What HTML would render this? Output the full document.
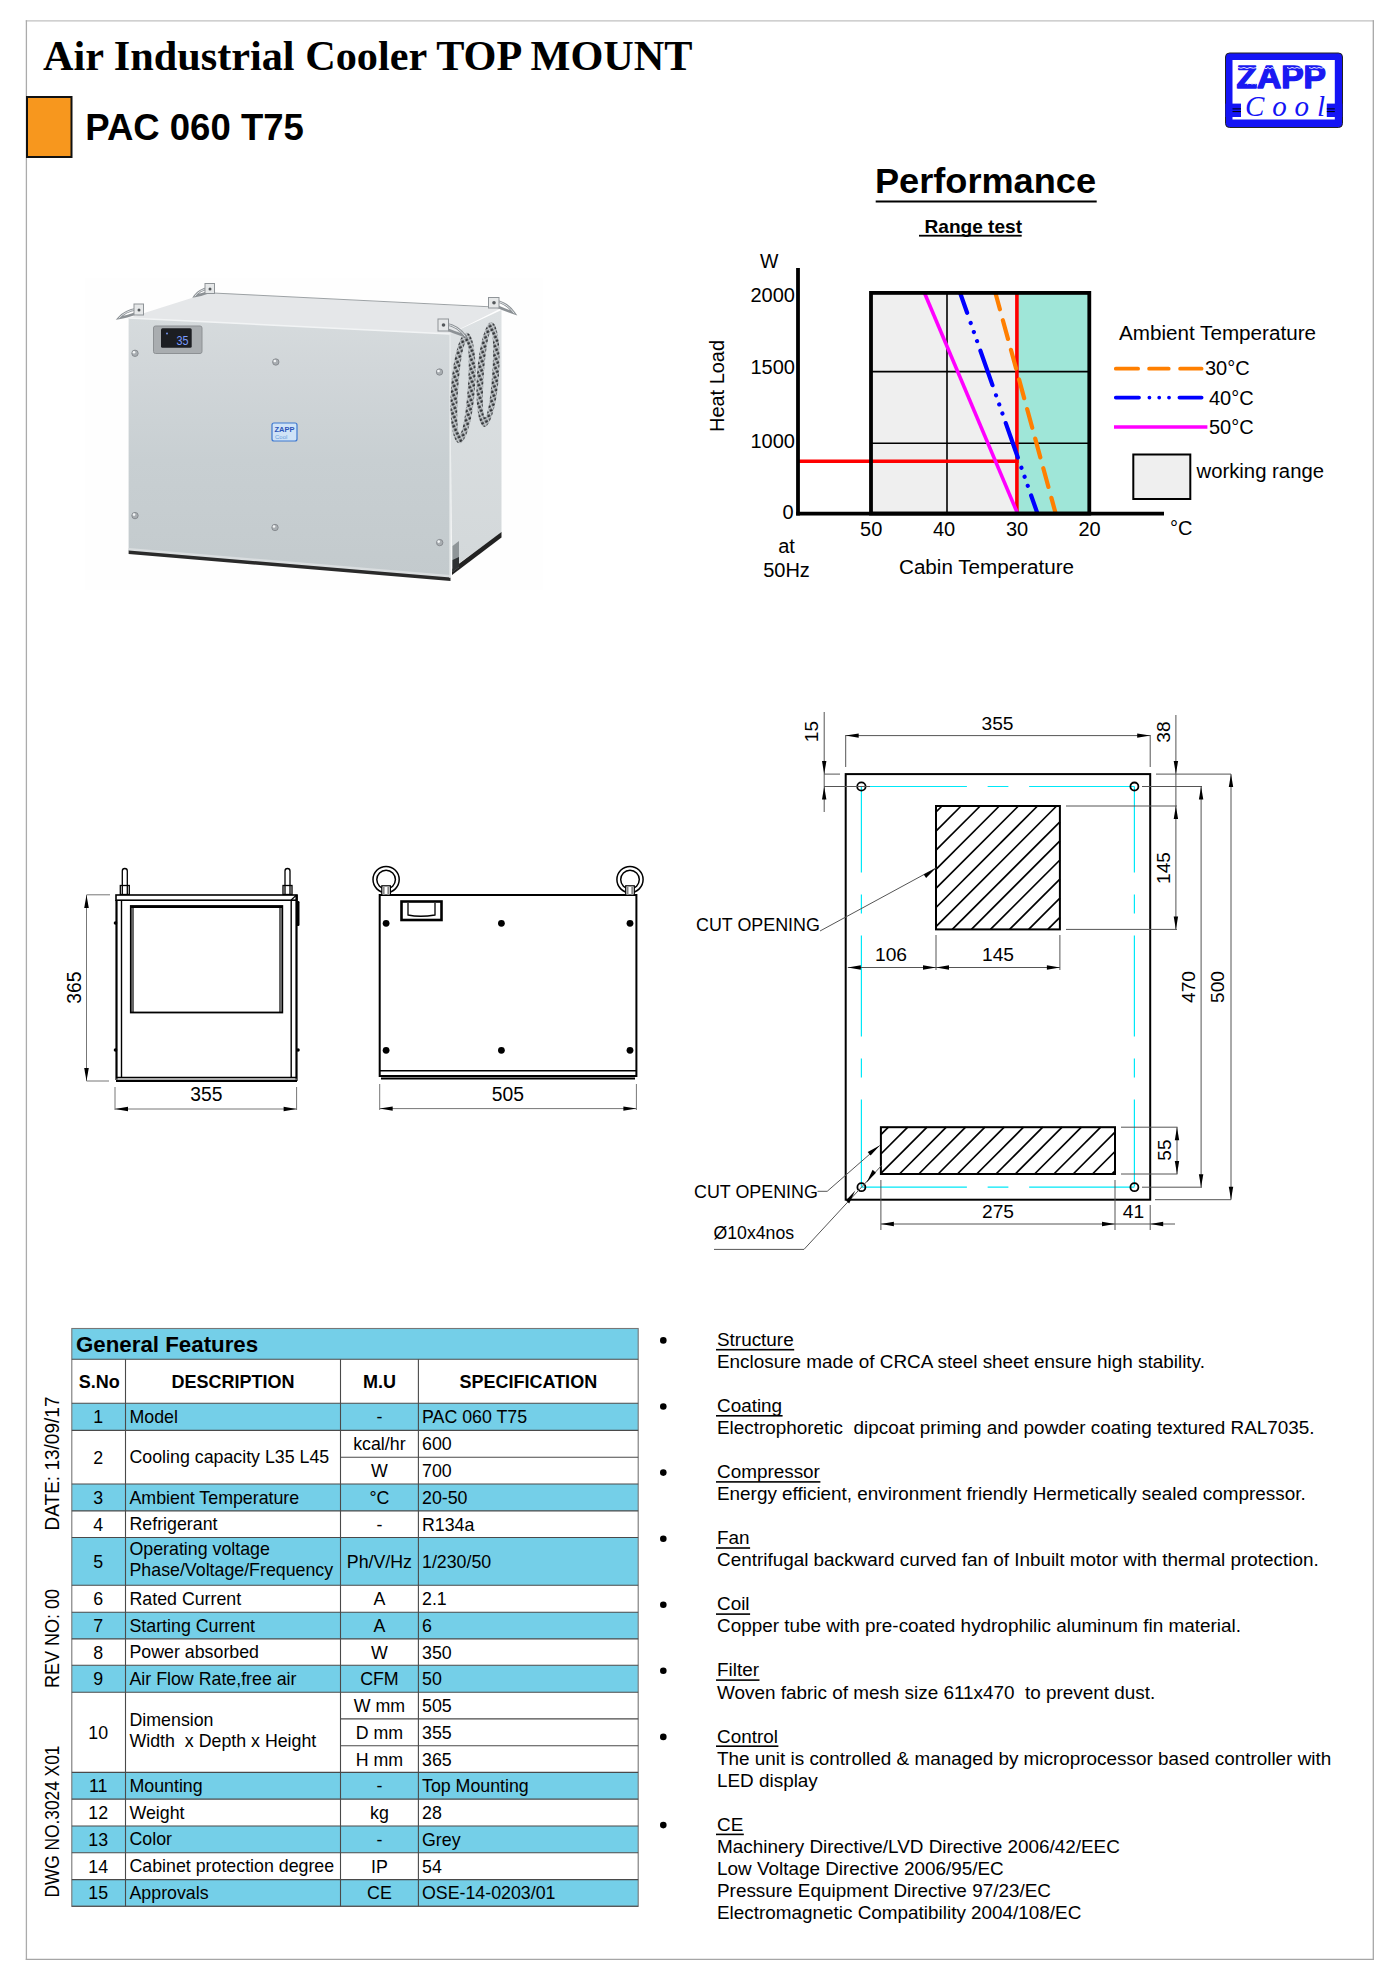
<!DOCTYPE html>
<html><head><meta charset="utf-8">
<style>
html,body{margin:0;padding:0;background:#fff;}
body{width:1400px;height:1981px;overflow:hidden;position:relative;}
svg{position:absolute;left:0;top:0;}
text{font-family:"Liberation Sans",sans-serif;fill:#000;}
.serif{font-family:"Liberation Serif",serif;}
</style></head><body>
<svg width="1400" height="1981" viewBox="0 0 1400 1981">

<line x1="25.8" y1="20.9" x2="1374" y2="20.9" stroke="#c0c0c0" stroke-width="1.3"/>
<line x1="26.4" y1="20.3" x2="26.4" y2="1960" stroke="#ababab" stroke-width="1.3"/>
<line x1="1373.3" y1="20.3" x2="1373.3" y2="1960" stroke="#a6a6a6" stroke-width="1.3"/>
<line x1="25.8" y1="1959.4" x2="1374" y2="1959.4" stroke="#a6a6a6" stroke-width="1.3"/>
<text x="43" y="70" class="serif" font-weight="bold" font-size="42.25">Air Industrial Cooler TOP MOUNT</text>
<rect x="27" y="97" width="44.5" height="60" fill="#F7971E" stroke="#111" stroke-width="2"/>
<text x="85.3" y="139.9" font-weight="bold" font-size="37.5" textLength="218.5" lengthAdjust="spacingAndGlyphs">PAC 060 T75</text>
<g id="logo">
<rect x="1225.5" y="53" width="117" height="74.5" rx="4" fill="#1414f5" stroke="#222" stroke-width="1"/>
<rect x="1232.5" y="60" width="102.3" height="59.5" fill="#fff"/>
<rect x="1225.5" y="103.6" width="15.5" height="13.4" fill="#1414f5"/>
<rect x="1326.8" y="103.6" width="15.5" height="13.4" fill="#1414f5"/>
<line x1="1232.5" y1="108.9" x2="1241" y2="108.9" stroke="#000" stroke-width="1"/>
<line x1="1232.5" y1="111.6" x2="1241" y2="111.6" stroke="#000" stroke-width="1"/>
<line x1="1326.8" y1="108.9" x2="1334.8" y2="108.9" stroke="#000" stroke-width="1"/>
<line x1="1326.8" y1="111.6" x2="1334.8" y2="111.6" stroke="#000" stroke-width="1"/>
<text x="1236.5" y="88.2" font-weight="bold" font-size="31.5" style="fill:#1a1af2;stroke:#1a1af2;stroke-width:1.4;stroke-linejoin:round" textLength="89.5" lengthAdjust="spacingAndGlyphs">ZAPP</text>
<g fill="none" stroke="#fff" stroke-width="1" opacity="0.9">
<path d="M1238,67.5 q3,1.5 6,0 q3,2 6,0 q3,1.5 7,0"/>
<path d="M1247,84 q3,-1.5 5,0 q2,-1 4,0"/>
<path d="M1264,67.5 q2,2.5 4,0 q2,3 4,0 q2,2 5,0"/>
<path d="M1287,67.5 q3,2 5,0 q3,1.5 5,0 q2,1.5 5,0"/>
<path d="M1309,67.5 q3,2 5,0 q3,1.5 5,0 q2,1.5 5,0"/>
</g>
<text x="1245" y="116" class="serif" font-style="italic" font-size="29" style="fill:#1414f5" textLength="80" lengthAdjust="spacing">Cool</text>
</g>
<g id="chart">
<text x="875" y="193.4" font-weight="bold" font-size="35.5" textLength="221" lengthAdjust="spacingAndGlyphs">Performance</text>
<rect x="875.7" y="200.5" width="221" height="2" fill="#000"/>
<text x="924.5" y="232.9" font-weight="bold" font-size="18.5" textLength="97.5" lengthAdjust="spacingAndGlyphs">Range test</text>
<rect x="919" y="234.8" width="102.7" height="1.8" fill="#000"/>
<rect x="871" y="292.5" width="146" height="221" fill="#efefef"/>
<rect x="1017" y="292.5" width="72.3" height="221" fill="#9fe6d8"/>
<line x1="871" y1="371.6" x2="1089.3" y2="371.6" stroke="#000" stroke-width="1.6"/>
<line x1="871" y1="443.2" x2="1089.3" y2="443.2" stroke="#000" stroke-width="1.6"/>
<line x1="947" y1="292.5" x2="947" y2="513.6" stroke="#000" stroke-width="1.6"/>
<line x1="1016.9" y1="292.5" x2="1016.9" y2="513.6" stroke="#ff0000" stroke-width="3.6"/>
<line x1="798" y1="461.3" x2="1018.7" y2="461.3" stroke="#ff0000" stroke-width="3.6"/>
<line x1="924.3" y1="292.5" x2="1017.6" y2="513.6" stroke="#ff00ff" stroke-width="3.6"/>
<clipPath id="boxclip"><rect x="871" y="293" width="218.3" height="220.6"/></clipPath>
<line clip-path="url(#boxclip)" x1="960" y1="292.5" x2="1037.5" y2="513.6" stroke="#0000ff" stroke-width="4.2" stroke-linecap="round" stroke-dasharray="36.5 10.8 0.01 9.6 0.01 9.6 0.01 10.15" stroke-dashoffset="15"/>
<line clip-path="url(#boxclip)" x1="995.3" y1="292.5" x2="1055.7" y2="513.6" stroke="#ff7f00" stroke-width="4.2" stroke-linecap="round" stroke-dasharray="19.4 11.3" stroke-dashoffset="2"/>
<rect x="871" y="292.9" width="218.3" height="220.7" fill="none" stroke="#000" stroke-width="3.8"/>
<line x1="798" y1="268" x2="798" y2="515.5" stroke="#000" stroke-width="3.8"/>
<line x1="796.2" y1="513.6" x2="1164" y2="513.6" stroke="#000" stroke-width="3.8"/>
<text x="760" y="268.3" font-size="19.5">W</text>
<text x="795" y="301.5" font-size="20" text-anchor="end">2000</text>
<text x="795" y="374.4" font-size="20" text-anchor="end">1500</text>
<text x="795" y="447.6" font-size="20" text-anchor="end">1000</text>
<text x="793.5" y="519.3" font-size="20" text-anchor="end">0</text>
<text x="871.2" y="535.5" font-size="20" text-anchor="middle">50</text>
<text x="944" y="535.5" font-size="20" text-anchor="middle">40</text>
<text x="1017" y="535.5" font-size="20" text-anchor="middle">30</text>
<text x="1089.5" y="535.5" font-size="20" text-anchor="middle">20</text>
<text x="1170" y="534.7" font-size="20">°C</text>
<text x="786.5" y="552.9" font-size="20" text-anchor="middle">at</text>
<text x="786.5" y="576.6" font-size="20" text-anchor="middle">50Hz</text>
<text x="899" y="573.9" font-size="19.5" textLength="175" lengthAdjust="spacingAndGlyphs">Cabin Temperature</text>
<text transform="translate(724,432) rotate(-90)" font-size="19.5" textLength="92" lengthAdjust="spacingAndGlyphs">Heat Load</text>
<text x="1119" y="339.7" font-size="19.5" textLength="197" lengthAdjust="spacingAndGlyphs">Ambient Temperature</text>
<line x1="1115.8" y1="368.7" x2="1201.6" y2="368.7" stroke="#ff7f00" stroke-width="3.8" stroke-linecap="round" stroke-dasharray="22.3 11 19.6 11.4"/>
<text x="1205" y="375.4" font-size="20">30°C</text>
<line x1="1115.8" y1="397.6" x2="1201.6" y2="397.6" stroke="#0000ff" stroke-width="3.8" stroke-linecap="round" stroke-dasharray="23.2 10.4 0.01 9.8 0.01 9.8 0.01 10.4 23.5"/>
<text x="1209" y="404.7" font-size="20">40°C</text>
<line x1="1114" y1="427" x2="1207.4" y2="427" stroke="#ff00ff" stroke-width="3.6"/>
<text x="1209" y="433.5" font-size="20">50°C</text>
<rect x="1133.3" y="454.5" width="57" height="44.5" fill="#efefef" stroke="#000" stroke-width="2"/>
<text x="1196.5" y="478" font-size="20" textLength="127.5" lengthAdjust="spacingAndGlyphs">working range</text>
</g>
<g id="photo">
<defs>
<linearGradient id="gfront" x1="0" y1="0" x2="0" y2="1">
<stop offset="0" stop-color="#d6dbdd"/><stop offset="0.2" stop-color="#d1d6d9"/><stop offset="0.55" stop-color="#c8cfd2"/><stop offset="1" stop-color="#c3cacd"/>
</linearGradient>
<linearGradient id="gside" x1="0" y1="0" x2="0" y2="1">
<stop offset="0" stop-color="#dde1e3"/><stop offset="1" stop-color="#d3d8da"/>
</linearGradient>
<pattern id="vent" width="4.5" height="4" patternUnits="userSpaceOnUse" patternTransform="rotate(-30)">
<rect width="4.5" height="4" fill="#c9ced1"/><rect x="0.4" y="0.5" width="3.0" height="2.6" fill="#34373a"/>
</pattern>
</defs>
<rect x="85" y="278" width="458" height="312" fill="#fefefe"/>
<polygon points="128.6,318 209,292.5 501.5,308 450,334" fill="#e5e7e9"/>
<line x1="209" y1="292.8" x2="494" y2="307" stroke="#9da2a5" stroke-width="1"/>
<polygon points="450,334 501.5,310 501.5,533 452,568" fill="url(#gside)"/>
<polygon points="452,569 501.5,532 501.5,537.5 452,575" fill="#222"/>
<polygon points="128.6,318 450,334 450.5,578 128.6,551" fill="url(#gfront)"/>
<polygon points="128.6,548 450.5,575 450.5,578 128.6,551" fill="#d9dddf"/>
<polygon points="128.6,550.5 450.5,577.5 450.5,581 128.6,554" fill="#2a2a2a"/>
<line x1="128.6" y1="318" x2="450" y2="334" stroke="#f2f4f5" stroke-width="1.5"/>
<line x1="450" y1="334" x2="450" y2="578" stroke="#e8ebec" stroke-width="1.2"/>
<g transform="rotate(4 463 388)"><ellipse cx="463" cy="388" rx="12" ry="55.5" fill="url(#vent)"/><ellipse cx="463" cy="388" rx="4.8" ry="46" fill="#d9dee0"/></g>
<g transform="rotate(4 488 374.5)"><ellipse cx="488" cy="374.5" rx="11" ry="52.5" fill="url(#vent)"/><ellipse cx="488" cy="374.5" rx="4.2" ry="43" fill="#d9dee0"/></g>
<rect x="153.5" y="326" width="48.5" height="27.5" rx="2" fill="#a9adb0" stroke="#8d9194" stroke-width="1"/>
<rect x="161" y="328.3" width="30.7" height="19.5" rx="1.5" fill="#1c1e22"/>
<text x="176.5" y="344.6" font-size="13" style="fill:#7a9cff" textLength="12" lengthAdjust="spacingAndGlyphs">35</text><circle cx="167" cy="333.5" r="0.9" fill="#7a9cff"/>
<g fill="#a9aeb2" stroke="#7d8286" stroke-width="0.8">
<circle cx="135" cy="353.3" r="3.2"/><circle cx="275.8" cy="362" r="3.2"/><circle cx="439.5" cy="372" r="3.2"/>
<circle cx="135" cy="515.6" r="3.2"/><circle cx="275" cy="527.5" r="3.2"/><circle cx="439.7" cy="542.6" r="3.2"/>
</g>
<rect x="272" y="423" width="25" height="18" rx="2" fill="#cfe3f7" stroke="#3d78d0" stroke-width="1.2"/>
<text x="274.5" y="432" font-size="7.5" font-weight="bold" style="fill:#2c55b8">ZAPP</text>
<text x="275" y="439" font-size="6" style="fill:#6aa0dd">Cool</text>
<g fill="none" stroke="#8c9195" stroke-width="2.6" stroke-linecap="round">
<path d="M137,309 Q125,311 119,318 Q126,317 137,313"/>
<path d="M209,288 Q199,290 195,296 Q201,295 209,292"/>
<path d="M446,324 Q458,326 465,336 Q456,333 446,329"/>
<path d="M496,301 Q507,303 514,313 Q505,310 496,306"/>
</g>
<g fill="none" stroke="#e9ecee" stroke-width="0.9" stroke-linecap="round">
<path d="M137,309 Q125,311 119,318"/>
<path d="M209,288 Q199,290 195,296"/>
<path d="M446,324 Q458,326 465,336"/>
<path d="M496,301 Q507,303 514,313"/>
</g>
<g fill="#e6e8e9" stroke="#8f9498" stroke-width="1">
<rect x="134" y="304" width="9.5" height="11"/>
<rect x="205" y="283.5" width="9.5" height="10"/>
<rect x="438" y="319" width="10.5" height="12"/>
<rect x="488.5" y="297.5" width="10.5" height="10.5"/>
</g>
<g fill="#55595c"><circle cx="139" cy="310" r="1.5"/><circle cx="210" cy="289" r="1.5"/><circle cx="443.5" cy="325" r="1.8"/><circle cx="494" cy="302.8" r="1.8"/></g>
<polygon points="452.5,546 459,541 459,567 452.5,572" fill="#8f9598"/><polygon points="452.5,560 459,557 459,567 452.5,572" fill="#2e3133"/>
<g fill="#f4f6f7"><circle cx="134" cy="352.3" r="1.3"/><circle cx="274.8" cy="361" r="1.3"/><circle cx="438.5" cy="371" r="1.3"/><circle cx="134" cy="514.6" r="1.3"/><circle cx="274" cy="526.5" r="1.3"/><circle cx="438.7" cy="541.6" r="1.3"/></g>
</g>
<g id="front" fill="none" stroke="#000">
<rect x="116" y="895" width="181" height="5.2" stroke-width="1.6"/>
<line x1="116.5" y1="900" x2="116.5" y2="1080" stroke-width="2.2"/>
<line x1="121.5" y1="900" x2="121.5" y2="1077" stroke-width="1.4"/>
<line x1="296.5" y1="895" x2="296.5" y2="1081" stroke-width="2.2"/>
<line x1="291.2" y1="900" x2="291.2" y2="1077" stroke-width="1.4"/>
<rect x="130.8" y="906" width="151.5" height="106.5" stroke-width="1.8"/>
<line x1="133" y1="908" x2="133" y2="1012" stroke-width="1.2"/>
<line x1="280" y1="908" x2="280" y2="1012" stroke-width="1.2"/>
<line x1="131" y1="907" x2="282" y2="907" stroke-width="2"/>
<line x1="116" y1="1077.5" x2="297" y2="1077.5" stroke-width="1.6"/>
<line x1="116" y1="1081" x2="297" y2="1081" stroke-width="2"/>
<line x1="116" y1="1079.2" x2="297" y2="1079.2" stroke="#888" stroke-width="1"/>
<path d="M122.3,894 L122.3,871 A2.5,2.5 0 0 1 127.3,871 L127.3,894" stroke-width="1.3"/>
<rect x="120.3" y="885.5" width="9" height="9" stroke-width="1.3"/>
<path d="M285,894 L285,871 A2.5,2.5 0 0 1 290,871 L290,894" stroke-width="1.3"/>
<rect x="283" y="885.5" width="9" height="9" stroke-width="1.3"/>
<line x1="291.2" y1="900" x2="296.5" y2="895" stroke-width="1.2"/>
<rect x="296.5" y="901" width="3" height="25" rx="1.2" fill="#000" stroke="none"/>
<circle cx="115.5" cy="923" r="1.8" fill="#000" stroke="none"/>
<circle cx="115.5" cy="1050" r="1.8" fill="#000" stroke="none"/>
<circle cx="298" cy="1050" r="1.8" fill="#000" stroke="none"/>
</g>
<g id="frontdim" stroke="#777" fill="none" stroke-width="1">
<line x1="86.5" y1="894.8" x2="110" y2="894.8"/>
<line x1="86.5" y1="1081" x2="109" y2="1081"/>
<line x1="86.5" y1="895" x2="86.5" y2="1081"/>
<line x1="115" y1="1087" x2="115" y2="1110"/>
<line x1="296.6" y1="1087" x2="296.6" y2="1110"/>
<line x1="115" y1="1109" x2="296.6" y2="1109"/>
</g>
<g fill="#000">
<polygon points="86.5,895 84.2,908 88.8,908"/>
<polygon points="86.5,1081 84.2,1068 88.8,1068"/>
<polygon points="115,1109 128,1106.8 128,1111.2"/>
<polygon points="296.6,1109 283.6,1106.8 283.6,1111.2"/>
</g>
<text x="206.3" y="1101.4" font-size="19.3" text-anchor="middle">355</text>
<text transform="translate(80.7,987.6) rotate(-90)" font-size="19.3" text-anchor="middle">365</text>

<g id="side" fill="none" stroke="#000">
<rect x="379.7" y="895" width="256.7" height="181" stroke-width="2"/>
<line x1="379.7" y1="1070.7" x2="636.4" y2="1070.7" stroke-width="1.6"/>
<line x1="381" y1="1078.5" x2="635" y2="1078.5" stroke-width="2"/>
<rect x="401.5" y="901.5" width="40" height="18.5" stroke-width="2.6"/>
<path d="M408,903 L408,915 Q420,917.5 435,915 L435,903" stroke-width="1.3"/>
<circle cx="386.1" cy="879.6" r="13.1" stroke-width="1.5"/>
<circle cx="386.1" cy="879.6" r="9.3" stroke-width="1.5"/>
<circle cx="630" cy="879.6" r="13.1" stroke-width="1.5"/>
<circle cx="630" cy="879.6" r="9.3" stroke-width="1.5"/>
<rect x="381.8" y="885.8" width="8.6" height="9.2" fill="#fff" stroke-width="1.2"/>
<rect x="382.8" y="887" width="1.8" height="8" fill="#888" stroke="none"/><rect x="387.4" y="887" width="1.8" height="8" fill="#888" stroke="none"/>
<rect x="625.7" y="885.8" width="8.6" height="9.2" fill="#fff" stroke-width="1.2"/>
<rect x="626.7" y="887" width="1.8" height="8" fill="#888" stroke="none"/><rect x="631.3" y="887" width="1.8" height="8" fill="#888" stroke="none"/>
</g>
<g fill="#000">
<circle cx="386.1" cy="923.3" r="3.4"/><circle cx="501.4" cy="923.3" r="3.4"/><circle cx="630" cy="923.3" r="3.4"/>
<circle cx="386.1" cy="1050.3" r="3.4"/><circle cx="501.4" cy="1050.3" r="3.4"/><circle cx="630" cy="1050.3" r="3.4"/>
</g>
<g stroke="#777" fill="none" stroke-width="1">
<line x1="379.7" y1="1084" x2="379.7" y2="1110"/>
<line x1="636.4" y1="1084" x2="636.4" y2="1110"/>
<line x1="379.7" y1="1108.6" x2="636.4" y2="1108.6"/>
</g>
<g fill="#000">
<polygon points="379.7,1108.6 392.7,1106.4 392.7,1110.8"/>
<polygon points="636.4,1108.6 623.4,1106.4 623.4,1110.8"/>
</g>
<text x="507.8" y="1101" font-size="19.3" text-anchor="middle">505</text>

<g id="cut" fill="none" stroke="#000">
<rect x="845.7" y="774.1" width="304.5" height="125.6" stroke-width="2" style="display:none"/>
<rect x="845.7" y="774.1" width="304.5" height="425.6" stroke-width="2"/>
<g stroke="#00e8f8" stroke-width="1.2">
<line x1="861.4" y1="786.5" x2="1134.4" y2="786.5" stroke-dasharray="105.5 20.75 20.75 20.75 105.5"/>
<line x1="861.4" y1="1187.2" x2="1134.4" y2="1187.2" stroke-dasharray="105.5 20.75 20.75 20.75 105.5"/>
<line x1="861.4" y1="786.5" x2="861.4" y2="1187.2" stroke-dasharray="86 22 19 22 101 22 19 22 87"/>
<line x1="1134.4" y1="786.5" x2="1134.4" y2="1187.2" stroke-dasharray="86 22 19 22 101 22 19 22 87"/>
</g>
<g stroke-width="1.8"><circle cx="861.4" cy="786.5" r="4.2"/><circle cx="1134.4" cy="786.5" r="4"/><circle cx="861.4" cy="1187.2" r="4"/><circle cx="1134.4" cy="1187.2" r="4"/></g>
<rect x="936" y="806" width="123.9" height="123.4" stroke-width="2"/>
<rect x="880.9" y="1127.2" width="234.1" height="46.8" stroke-width="2"/>
<g stroke-width="1.7"><line x1="936.00" y1="812.00" x2="942.00" y2="806.00"/><line x1="936.00" y1="831.10" x2="961.10" y2="806.00"/><line x1="936.00" y1="850.20" x2="980.20" y2="806.00"/><line x1="936.00" y1="869.30" x2="999.30" y2="806.00"/><line x1="936.00" y1="888.40" x2="1018.40" y2="806.00"/><line x1="936.00" y1="907.50" x2="1037.50" y2="806.00"/><line x1="936.00" y1="926.60" x2="1056.60" y2="806.00"/><line x1="952.30" y1="929.40" x2="1059.90" y2="821.80"/><line x1="971.40" y1="929.40" x2="1059.90" y2="840.90"/><line x1="990.50" y1="929.40" x2="1059.90" y2="860.00"/><line x1="1009.60" y1="929.40" x2="1059.90" y2="879.10"/><line x1="1028.70" y1="929.40" x2="1059.90" y2="898.20"/><line x1="1047.80" y1="929.40" x2="1059.90" y2="917.30"/></g>
<g stroke-width="1.7"><line x1="880.90" y1="1134.70" x2="888.40" y2="1127.20"/><line x1="880.90" y1="1154.00" x2="907.70" y2="1127.20"/><line x1="880.90" y1="1173.30" x2="927.00" y2="1127.20"/><line x1="899.50" y1="1174.00" x2="946.30" y2="1127.20"/><line x1="918.80" y1="1174.00" x2="965.60" y2="1127.20"/><line x1="938.10" y1="1174.00" x2="984.90" y2="1127.20"/><line x1="957.40" y1="1174.00" x2="1004.20" y2="1127.20"/><line x1="976.70" y1="1174.00" x2="1023.50" y2="1127.20"/><line x1="996.00" y1="1174.00" x2="1042.80" y2="1127.20"/><line x1="1015.30" y1="1174.00" x2="1062.10" y2="1127.20"/><line x1="1034.60" y1="1174.00" x2="1081.40" y2="1127.20"/><line x1="1053.90" y1="1174.00" x2="1100.70" y2="1127.20"/><line x1="1073.20" y1="1174.00" x2="1115.00" y2="1132.20"/><line x1="1092.50" y1="1174.00" x2="1115.00" y2="1151.50"/><line x1="1111.80" y1="1174.00" x2="1115.00" y2="1170.80"/></g>
</g>
<g stroke="#555" fill="none" stroke-width="1">
<line x1="845.7" y1="735" x2="845.7" y2="767"/>
<line x1="1150.2" y1="735" x2="1150.2" y2="767"/>
<line x1="845.7" y1="735.6" x2="1150.2" y2="735.6"/>
<line x1="824.2" y1="712" x2="824.2" y2="812"/>
<line x1="824" y1="774.1" x2="840" y2="774.1"/>
<line x1="824" y1="786.5" x2="870" y2="786.5"/>
<line x1="1175.9" y1="715" x2="1175.9" y2="929.4"/>
<line x1="1156" y1="774.1" x2="1231" y2="774.1"/>
<line x1="1142" y1="786.5" x2="1202" y2="786.5"/>
<line x1="1066" y1="806" x2="1177" y2="806"/>
<line x1="1066" y1="929.4" x2="1177" y2="929.4"/>
<line x1="1201.1" y1="786.5" x2="1201.1" y2="1187.2"/>
<line x1="1231" y1="774.1" x2="1231" y2="1199.7"/>
<line x1="936" y1="935" x2="936" y2="970"/>
<line x1="1059.9" y1="935" x2="1059.9" y2="970"/>
<line x1="847.8" y1="967.5" x2="1059.9" y2="967.5"/>
<line x1="820" y1="931" x2="936" y2="868"/>
<line x1="1121" y1="1127.2" x2="1177.5" y2="1127.2"/>
<line x1="1121" y1="1174" x2="1177.5" y2="1174"/>
<line x1="1177" y1="1127.2" x2="1177" y2="1174"/>
<line x1="880.9" y1="1180" x2="880.9" y2="1230"/>
<line x1="1115" y1="1180" x2="1115" y2="1230"/>
<line x1="1150.2" y1="1205" x2="1150.2" y2="1230"/>
<line x1="880.9" y1="1224" x2="1175" y2="1224"/>
<line x1="1142" y1="1187.2" x2="1202" y2="1187.2"/>
<line x1="1155" y1="1199.7" x2="1231" y2="1199.7"/>
<polyline points="817.5,1191.3 827.2,1191.3 879.7,1145.5"/>
<polyline points="714,1249.4 804,1249.4 882,1165"/>
</g>
<g fill="#000">
<polygon points="845.7,735.6 858.7,733.4 858.7,737.8"/>
<polygon points="879.7,1145.5 867.7,1152.0 870.6,1155.4"/>
<polygon points="857.3,1191.6 847.9,1201.6 851.2,1204.6" transform="translate(-2,-1)"/>
<polygon points="865.5,1182.8 874.9,1172.8 871.6,1169.8" transform="translate(1,0)"/>
<polygon points="936,868 923.7,874.4 926.1,878.1"/>
<polygon points="1150.2,735.6 1137.2,733.4 1137.2,737.8"/>
<polygon points="824.2,774.1 822,761 826.4,761"/>
<polygon points="824.2,786.5 822,799.5 826.4,799.5"/>
<polygon points="1175.9,774.1 1173.7,761 1178.1,761"/>
<polygon points="1175.9,806 1173.7,819 1178.1,819"/>
<polygon points="1175.9,929.4 1173.7,916.4 1178.1,916.4"/>
<polygon points="1201.1,786.5 1198.9,799.5 1203.3,799.5"/>
<polygon points="1201.1,1187.2 1198.9,1174.2 1203.3,1174.2"/>
<polygon points="1231,774.1 1228.8,787.1 1233.2,787.1"/>
<polygon points="1231,1199.7 1228.8,1186.7 1233.2,1186.7"/>
<polygon points="847.8,967.5 860.8,965.3 860.8,969.7"/>
<polygon points="936,967.5 923,965.3 923,969.7"/>
<polygon points="936,967.5 949,965.3 949,969.7"/>
<polygon points="1059.9,967.5 1046.9,965.3 1046.9,969.7"/>
<polygon points="1177,1127.2 1174.8,1140.2 1179.2,1140.2"/>
<polygon points="1177,1174 1174.8,1161 1179.2,1161"/>
<polygon points="880.9,1224 893.9,1221.8 893.9,1226.2"/>
<polygon points="1115,1224 1102,1221.8 1102,1226.2"/>
<polygon points="1150.2,1224 1163.2,1221.8 1163.2,1226.2"/>
</g>
<g font-size="19.2">
<text x="997.5" y="730.2" text-anchor="middle">355</text>
<text transform="translate(817.5,731.5) rotate(-90)" text-anchor="middle">15</text>
<text transform="translate(1169.5,732) rotate(-90)" text-anchor="middle">38</text>
<text transform="translate(1169.5,868) rotate(-90)" text-anchor="middle">145</text>
<text transform="translate(1195,987) rotate(-90)" text-anchor="middle">470</text>
<text transform="translate(1224,987) rotate(-90)" text-anchor="middle">500</text>
<text transform="translate(1171,1150) rotate(-90)" text-anchor="middle">55</text>
<text x="891" y="961.3" text-anchor="middle">106</text>
<text x="998" y="961.3" text-anchor="middle">145</text>
<text x="998" y="1217.5" text-anchor="middle">275</text>
<text x="1133.5" y="1217.5" text-anchor="middle">41</text>
<text x="696" y="930.5" font-size="17.9">CUT OPENING</text>
<text x="694" y="1197.7" font-size="17.9">CUT OPENING</text>
<text x="713.5" y="1238.7" font-size="17.7">Ø10x4nos</text>
</g>

<g id="table">
<rect x="71.8" y="1328.5" width="566.4000000000001" height="30.799999999999955" fill="#74cfe8"/>
<rect x="71.8" y="1403.3" width="566.4000000000001" height="27.1" fill="#74cfe8"/>
<rect x="71.8" y="1484.0" width="566.4000000000001" height="26.9" fill="#74cfe8"/>
<rect x="71.8" y="1537.5" width="566.4000000000001" height="47.8" fill="#74cfe8"/>
<rect x="71.8" y="1612.2" width="566.4000000000001" height="26.7" fill="#74cfe8"/>
<rect x="71.8" y="1665.3" width="566.4000000000001" height="26.9" fill="#74cfe8"/>
<rect x="71.8" y="1772.4" width="566.4000000000001" height="26.7" fill="#74cfe8"/>
<rect x="71.8" y="1826.0" width="566.4000000000001" height="26.7" fill="#74cfe8"/>
<rect x="71.8" y="1879.6" width="566.4000000000001" height="26.7" fill="#74cfe8"/>
<g stroke="#4a4a4a" stroke-width="1.1" fill="none">
<rect x="71.8" y="1328.5" width="566.4" height="577.8" stroke="#777"/>
<line x1="71.8" y1="1359.3" x2="638.2" y2="1359.3"/>
<line x1="71.8" y1="1403.3" x2="638.2" y2="1403.3"/>
<line x1="71.8" y1="1430.4" x2="638.2" y2="1430.4"/>
<line x1="71.8" y1="1484.0" x2="638.2" y2="1484.0"/>
<line x1="340.5" y1="1457.2" x2="638.2" y2="1457.2"/>
<line x1="71.8" y1="1510.9" x2="638.2" y2="1510.9"/>
<line x1="71.8" y1="1537.5" x2="638.2" y2="1537.5"/>
<line x1="71.8" y1="1585.3" x2="638.2" y2="1585.3"/>
<line x1="71.8" y1="1612.2" x2="638.2" y2="1612.2"/>
<line x1="71.8" y1="1638.9" x2="638.2" y2="1638.9"/>
<line x1="71.8" y1="1665.3" x2="638.2" y2="1665.3"/>
<line x1="71.8" y1="1692.2" x2="638.2" y2="1692.2"/>
<line x1="71.8" y1="1772.4" x2="638.2" y2="1772.4"/>
<line x1="340.5" y1="1718.9" x2="638.2" y2="1718.9"/>
<line x1="340.5" y1="1745.7" x2="638.2" y2="1745.7"/>
<line x1="71.8" y1="1799.1" x2="638.2" y2="1799.1"/>
<line x1="71.8" y1="1826.0" x2="638.2" y2="1826.0"/>
<line x1="71.8" y1="1852.7" x2="638.2" y2="1852.7"/>
<line x1="71.8" y1="1879.6" x2="638.2" y2="1879.6"/>
<line x1="71.8" y1="1906.3" x2="638.2" y2="1906.3"/>
<line x1="125.5" y1="1359.3" x2="125.5" y2="1906.3"/>
<line x1="340.5" y1="1359.3" x2="340.5" y2="1906.3"/>
<line x1="418.4" y1="1359.3" x2="418.4" y2="1906.3"/>
</g>
<text x="76" y="1352" font-weight="bold" font-size="22.3">General Features</text>
<g font-weight="bold" font-size="18">
<text x="99.2" y="1388" text-anchor="middle">S.No</text>
<text x="233.0" y="1388" text-anchor="middle">DESCRIPTION</text>
<text x="379.4" y="1388" text-anchor="middle">M.U</text>
<text x="528.3" y="1388" text-anchor="middle">SPECIFICATION</text>
</g>
<g font-size="17.8">
<text x="98.2" y="1423.3" text-anchor="middle">1</text>
<text x="129.5" y="1422.8">Model</text>
<text x="379.4" y="1423.3" text-anchor="middle">-</text>
<text x="422" y="1423.3">PAC 060 T75</text>
<text x="98.2" y="1463.7" text-anchor="middle">2</text>
<text x="129.5" y="1463.2">Cooling capacity L35 L45</text>
<text x="379.4" y="1450.3" text-anchor="middle">kcal/hr</text>
<text x="422" y="1450.3">600</text>
<text x="379.4" y="1477.1" text-anchor="middle">W</text>
<text x="422" y="1477.1">700</text>
<text x="98.2" y="1504.0" text-anchor="middle">3</text>
<text x="129.5" y="1503.5">Ambient Temperature</text>
<text x="379.4" y="1504.0" text-anchor="middle">°C</text>
<text x="422" y="1504.0">20-50</text>
<text x="98.2" y="1530.7" text-anchor="middle">4</text>
<text x="129.5" y="1530.2">Refrigerant</text>
<text x="379.4" y="1530.7" text-anchor="middle">-</text>
<text x="422" y="1530.7">R134a</text>
<text x="98.2" y="1567.9" text-anchor="middle">5</text>
<text x="129.5" y="1555.3">Operating voltage</text>
<text x="129.5" y="1575.9" xml:space="preserve">Phase/Voltage/Frequency</text>
<text x="379.4" y="1567.9" text-anchor="middle">Ph/V/Hz</text>
<text x="422" y="1567.9">1/230/50</text>
<text x="98.2" y="1605.2" text-anchor="middle">6</text>
<text x="129.5" y="1604.8">Rated Current</text>
<text x="379.4" y="1605.2" text-anchor="middle">A</text>
<text x="422" y="1605.2">2.1</text>
<text x="98.2" y="1632.1" text-anchor="middle">7</text>
<text x="129.5" y="1631.6">Starting Current</text>
<text x="379.4" y="1632.1" text-anchor="middle">A</text>
<text x="422" y="1632.1">6</text>
<text x="98.2" y="1658.6" text-anchor="middle">8</text>
<text x="129.5" y="1658.1">Power absorbed</text>
<text x="379.4" y="1658.6" text-anchor="middle">W</text>
<text x="422" y="1658.6">350</text>
<text x="98.2" y="1685.2" text-anchor="middle">9</text>
<text x="129.5" y="1684.8">Air Flow Rate,free air</text>
<text x="379.4" y="1685.2" text-anchor="middle">CFM</text>
<text x="422" y="1685.2">50</text>
<text x="98.2" y="1738.8" text-anchor="middle">10</text>
<text x="129.5" y="1726.2">Dimension</text>
<text x="129.5" y="1746.8" xml:space="preserve">Width  x Depth x Height</text>
<text x="379.4" y="1712.1" text-anchor="middle">W mm</text>
<text x="422" y="1712.1">505</text>
<text x="379.4" y="1738.8" text-anchor="middle">D mm</text>
<text x="422" y="1738.8">355</text>
<text x="379.4" y="1765.5" text-anchor="middle">H mm</text>
<text x="422" y="1765.5">365</text>
<text x="98.2" y="1792.2" text-anchor="middle">11</text>
<text x="129.5" y="1791.8">Mounting</text>
<text x="379.4" y="1792.2" text-anchor="middle">-</text>
<text x="422" y="1792.2">Top Mounting</text>
<text x="98.2" y="1819.0" text-anchor="middle">12</text>
<text x="129.5" y="1818.5">Weight</text>
<text x="379.4" y="1819.0" text-anchor="middle">kg</text>
<text x="422" y="1819.0">28</text>
<text x="98.2" y="1845.8" text-anchor="middle">13</text>
<text x="129.5" y="1845.3">Color</text>
<text x="379.4" y="1845.8" text-anchor="middle">-</text>
<text x="422" y="1845.8">Grey</text>
<text x="98.2" y="1872.7" text-anchor="middle">14</text>
<text x="129.5" y="1872.2">Cabinet protection degree</text>
<text x="379.4" y="1872.7" text-anchor="middle">IP</text>
<text x="422" y="1872.7">54</text>
<text x="98.2" y="1899.4" text-anchor="middle">15</text>
<text x="129.5" y="1898.9">Approvals</text>
<text x="379.4" y="1899.4" text-anchor="middle">CE</text>
<text x="422" y="1899.4">OSE-14-0203/01</text>
</g>
</g>
<g font-size="19.5">
<text transform="translate(59.3,1530.5) rotate(-90)" textLength="134" lengthAdjust="spacingAndGlyphs">DATE: 13/09/17</text>
<text transform="translate(59.3,1688) rotate(-90)" textLength="99" lengthAdjust="spacingAndGlyphs">REV NO: 00</text>
<text transform="translate(59.3,1897.6) rotate(-90)" textLength="152" lengthAdjust="spacingAndGlyphs">DWG NO.3024 X01</text>
</g>
<g id="bullets" font-size="18.9">
<circle cx="663.3" cy="1340.4" r="3.3" fill="#000"/>
<text x="717" y="1346.0">Structure</text>
<rect x="716" y="1348.9" width="78.2" height="1.6" fill="#000"/>
<text x="717" y="1368.0" xml:space="preserve">Enclosure made of CRCA steel sheet ensure high stability.</text>
<circle cx="663.3" cy="1406.5" r="3.3" fill="#000"/>
<text x="717" y="1412.1">Coating</text>
<rect x="716" y="1415.0" width="66.6" height="1.6" fill="#000"/>
<text x="717" y="1434.1" xml:space="preserve">Electrophoretic  dipcoat priming and powder coating textured RAL7035.</text>
<circle cx="663.3" cy="1472.6" r="3.3" fill="#000"/>
<text x="717" y="1478.2">Compressor</text>
<rect x="716" y="1481.1" width="104.4" height="1.6" fill="#000"/>
<text x="717" y="1500.2" xml:space="preserve">Energy efficient, environment friendly Hermetically sealed compressor.</text>
<circle cx="663.3" cy="1538.7" r="3.3" fill="#000"/>
<text x="717" y="1544.3">Fan</text>
<rect x="716" y="1547.2" width="34.1" height="1.6" fill="#000"/>
<text x="717" y="1566.3" xml:space="preserve">Centrifugal backward curved fan of Inbuilt motor with thermal protection.</text>
<circle cx="663.3" cy="1604.8" r="3.3" fill="#000"/>
<text x="717" y="1610.4">Coil</text>
<rect x="716" y="1613.3" width="34.1" height="1.6" fill="#000"/>
<text x="717" y="1632.4" xml:space="preserve">Copper tube with pre-coated hydrophilic aluminum fin material.</text>
<circle cx="663.3" cy="1670.8" r="3.3" fill="#000"/>
<text x="717" y="1676.4">Filter</text>
<rect x="716" y="1679.3" width="43.5" height="1.6" fill="#000"/>
<text x="717" y="1698.5" xml:space="preserve">Woven fabric of mesh size 611x470  to prevent dust.</text>
<circle cx="663.3" cy="1736.9" r="3.3" fill="#000"/>
<text x="717" y="1742.5">Control</text>
<rect x="716" y="1745.4" width="62.4" height="1.6" fill="#000"/>
<text x="717" y="1764.6" xml:space="preserve">The unit is controlled &amp; managed by microprocessor based controller with</text>
<text x="717" y="1786.6" xml:space="preserve">LED display</text>
<circle cx="663.3" cy="1825.1" r="3.3" fill="#000"/>
<text x="717" y="1830.7">CE</text>
<rect x="716" y="1833.6" width="27.8" height="1.6" fill="#000"/>
<text x="717" y="1852.7" xml:space="preserve">Machinery Directive/LVD Directive 2006/42/EEC</text>
<text x="717" y="1874.7" xml:space="preserve">Low Voltage Directive 2006/95/EC</text>
<text x="717" y="1896.7" xml:space="preserve">Pressure Equipment Directive 97/23/EC</text>
<text x="717" y="1918.8" xml:space="preserve">Electromagnetic Compatibility 2004/108/EC</text>
</g>
</svg>
</body></html>
